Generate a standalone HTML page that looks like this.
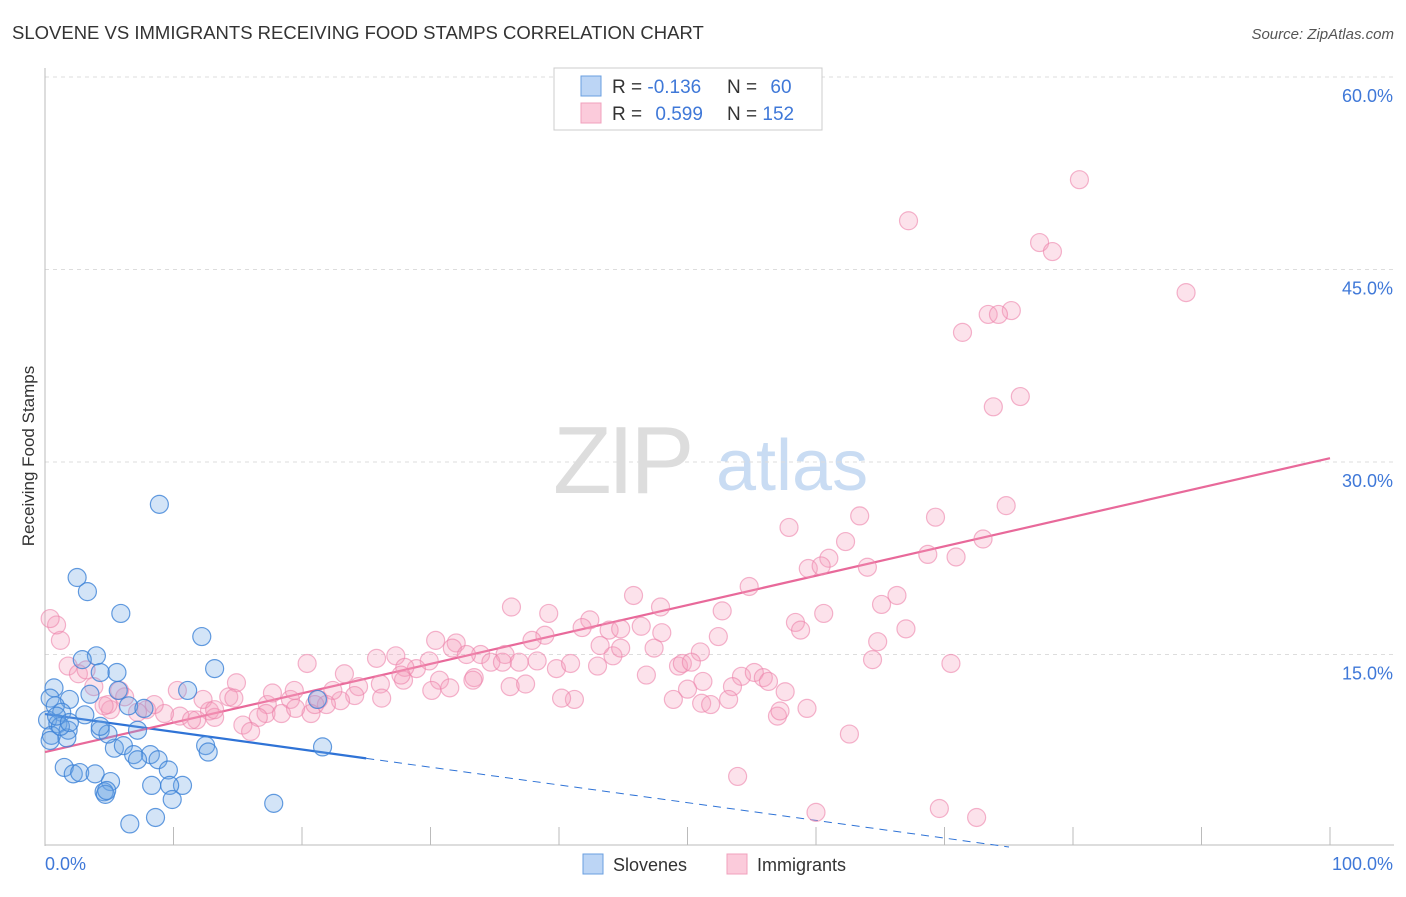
<!DOCTYPE html>
<html><head><meta charset="utf-8"><style>
body{margin:0;background:#fff;font-family:"Liberation Sans",sans-serif;}
svg text{font-family:"Liberation Sans",sans-serif;}
</style></head><body>
<svg id="chart" width="1406" height="892" viewBox="0 0 1406 892" xmlns="http://www.w3.org/2000/svg">
<text x="12" y="39" font-size="18.5" fill="#333">SLOVENE VS IMMIGRANTS RECEIVING FOOD STAMPS CORRELATION CHART</text>
<text x="1394" y="39" font-size="15" fill="#555" text-anchor="end" font-style="italic">Source: ZipAtlas.com</text>
<g>
<text x="553" y="493" font-size="96" fill="#ddd" font-family="Liberation Serif" letter-spacing="-4">ZIP</text>
<text x="716" y="490" font-size="72" fill="#c9dcf3">atlas</text>
</g>
<g id="grid"></g>
<g id="axes"></g>
<g id="lines"></g>
<g id="pts"></g>
<text transform="translate(34,456) rotate(-90)" font-size="17" fill="#333" text-anchor="middle">Receiving Food Stamps</text>
<g>
<rect x="554" y="68" width="268" height="62" fill="#fff" stroke="#ccc"/>
<rect x="581" y="76" width="20" height="20" fill="#bcd5f5" stroke="#6a9fe0"/>
<rect x="581" y="103" width="20" height="20" fill="#fbcbdb" stroke="#f0a0bc"/>
<text x="612" y="93" font-size="19" fill="#333">R = <tspan fill="#3f78d8">-0.136</tspan></text>
<text x="727" y="93" font-size="19" fill="#333">N = <tspan fill="#3f78d8" dx="8">60</tspan></text>
<text x="612" y="120" font-size="19" fill="#333">R = <tspan fill="#3f78d8" dx="8">0.599</tspan></text>
<text x="727" y="120" font-size="19" fill="#333">N = <tspan fill="#3f78d8">152</tspan></text>
</g>
<g>
<rect x="583" y="854" width="20" height="20" fill="#bcd5f5" stroke="#6a9fe0"/>
<text x="613" y="871" font-size="18" fill="#333">Slovenes</text>
<rect x="727" y="854" width="20" height="20" fill="#fbcbdb" stroke="#f0a0bc"/>
<text x="757" y="871" font-size="18" fill="#333">Immigrants</text>
</g>
</svg>
<script>
const yTicks=[15,30,45,60];
const yTickLabels=["15.0%","30.0%","45.0%","60.0%"];
const xTickLabels=["0.0%","100.0%"];
const sloX=[8.9,2.5,3.3,5.9,12.2,13.2,4.0,2.9,5.6,4.3,0.7,1.9,5.7,3.5,0.4,0.8,6.5,7.7,1.3,3.1,0.2,1.0,1.8,4.3,0.5,7.2,1.7,0.4,5.4,6.1,8.2,6.9,7.2,8.8,12.5,12.7,21.6,21.2,11.1,1.5,2.2,2.7,3.9,5.1,9.6,8.3,10.7,9.7,4.6,4.7,4.8,9.9,17.8,6.6,8.6,1.2,4.9,0.9,1.9,4.3];
const sloY=[26.7,21.0,19.9,18.2,16.4,13.9,14.9,14.6,13.6,13.6,12.4,11.5,12.2,11.9,11.6,11.0,11.0,10.8,10.5,10.3,9.9,9.6,9.1,9.1,8.7,9.1,8.5,8.3,7.7,7.9,7.2,7.2,6.8,6.8,7.9,7.4,7.8,11.5,12.2,6.2,5.7,5.8,5.7,5.1,6.0,4.8,4.8,4.8,4.3,4.1,4.4,3.7,3.4,1.8,2.3,9.4,8.8,10.2,9.7,9.4];
const immX=[80.5,67.2,77.4,78.4,88.8,75.2,73.4,74.2,71.4,75.9,73.8,74.8,57.9,63.4,69.3,73.0,62.3,61.0,68.7,70.9,64.0,59.4,60.4,54.8,45.8,36.3,39.2,47.9,66.3,65.1,60.6,52.7,42.4,41.8,43.9,44.8,46.4,58.4,67.0,58.8,38.9,37.9,30.4,32.0,48.0,52.4,31.7,35.8,33.9,34.7,32.8,44.2,43.2,44.8,47.4,51.0,64.8,70.5,64.4,27.3,25.8,29.9,28.9,28.0,20.4,23.3,24.4,26.1,27.9,30.7,27.7,33.4,35.6,36.9,38.3,39.8,40.9,43.0,46.8,49.3,49.6,50.3,51.2,54.2,55.2,55.9,56.3,57.6,50.0,53.5,51.1,53.2,48.9,51.8,41.2,40.2,36.2,37.4,33.3,31.5,30.1,26.2,24.1,23.0,22.4,21.3,21.9,20.7,19.1,17.3,17.2,16.6,19.4,17.7,14.9,14.3,12.8,13.2,11.8,12.3,10.3,10.5,9.3,8.5,7.9,7.2,5.1,6.2,5.8,4.9,4.6,1.8,2.6,3.2,3.8,1.2,0.9,0.4,59.3,57.0,57.2,53.9,62.6,69.6,72.5,60.0,15.4,16.0,14.7,18.4,21.0,19.5,11.4,13.2];
const immY=[52.0,48.8,47.1,46.4,43.2,41.8,41.5,41.5,40.1,35.1,34.3,26.6,24.9,25.8,25.7,24.0,23.8,22.5,22.8,22.6,21.8,21.7,21.9,20.3,19.6,18.7,18.2,18.7,19.6,18.9,18.2,18.4,17.7,17.1,16.9,17.0,17.2,17.5,17.0,16.9,16.5,16.1,16.1,15.9,16.7,16.4,15.5,15.0,15.0,14.4,15.0,14.9,15.7,15.5,15.5,15.2,16.0,14.3,14.6,14.9,14.7,14.5,13.9,14.0,14.3,13.5,12.5,12.7,13.0,13.0,13.4,13.2,14.4,14.4,14.5,13.9,14.3,14.1,13.4,14.1,14.3,14.4,12.9,13.3,13.6,13.2,12.9,12.1,12.3,12.5,11.2,11.5,11.5,11.1,11.5,11.6,12.5,12.7,13.0,12.4,12.2,11.6,11.8,11.4,12.2,11.5,11.1,10.4,11.5,11.1,10.4,10.1,12.2,12.0,12.8,11.7,10.6,10.1,9.9,11.5,12.2,10.2,10.4,11.1,10.7,10.5,10.7,11.7,12.2,11.1,11.0,14.1,13.5,13.8,12.5,16.1,17.3,17.8,10.8,10.2,10.6,5.5,8.8,3.0,2.3,2.7,9.5,9.0,11.6,10.4,11.1,10.8,9.9,10.7];
const sloTrend=[10.36,-3.45];
const immTrend=[7.4,30.3];

const NS="http://www.w3.org/2000/svg";
const X=v=>45+v*12.85;
const Y=v=>847-v*12.833;
function mk(tag,attrs,parent){const e=document.createElementNS(NS,tag);for(const k in attrs)e.setAttribute(k,attrs[k]);parent.appendChild(e);return e;}
const grid=document.getElementById('grid'),axes=document.getElementById('axes'),lines=document.getElementById('lines'),pts=document.getElementById('pts');
yTicks.forEach((t,i)=>{
  const l=mk('line',{x1:45,x2:1394,y1:Y(t),y2:Y(t),stroke:'#ddd','stroke-dasharray':'4,4'},grid);
  
  
  const tx=mk('text',{x:1393,y:Y(t)+25,'font-size':18,fill:'#3f78d8','text-anchor':'end'},grid);
  tx.textContent=yTickLabels[i];
  
  
});
mk('line',{x1:45,x2:45,y1:68,y2:846,stroke:'#bbb'},axes);
mk('line',{x1:45,x2:1394,y1:845,y2:845,stroke:'#bbb'},axes);
for(let i=1;i<=10;i++){const x=X(i*10);mk('line',{x1:x,x2:x,y1:827,y2:845,stroke:'#bbb'},axes);}
const xl0=mk('text',{x:45,y:870,'font-size':18,fill:'#3f78d8'},axes);xl0.textContent=xTickLabels[0];


const xl1=mk('text',{x:1393,y:870,'font-size':18,fill:'#3f78d8','text-anchor':'end'},axes);xl1.textContent=xTickLabels[1];



function dot(x,y,fill,stroke,name){const c=mk('circle',{cx:X(x),cy:Y(y),r:9,fill:fill,stroke:stroke,'stroke-width':1.2},pts);

}
immX.forEach((x,i)=>dot(x,immY[i],'rgba(244,160,190,0.3)','rgba(236,130,170,0.6)','immigrant-point'));
sloX.forEach((x,i)=>dot(x,sloY[i],'rgba(110,165,230,0.3)','rgba(60,130,215,0.8)','slovene-point'));

const sy=v=>sloTrend[0]+(sloTrend[1]-sloTrend[0])*v/100;
const zeroX=sloTrend[0]/(sloTrend[0]-sloTrend[1])*100;
const b1=mk('line',{x1:X(0),y1:Y(sy(0)),x2:X(25),y2:Y(sy(25)),stroke:'#2f73d6','stroke-width':2.2},lines);


const b2=mk('line',{x1:X(25),y1:Y(sy(25)),x2:X(zeroX),y2:Y(0),stroke:'#2f73d6','stroke-width':1,'stroke-dasharray':'8,6'},lines);


const p1=mk('line',{x1:X(0),y1:Y(immTrend[0]),x2:X(100),y2:Y(immTrend[1]),stroke:'#e8699a','stroke-width':2.2},lines);


</script>
</body></html>
